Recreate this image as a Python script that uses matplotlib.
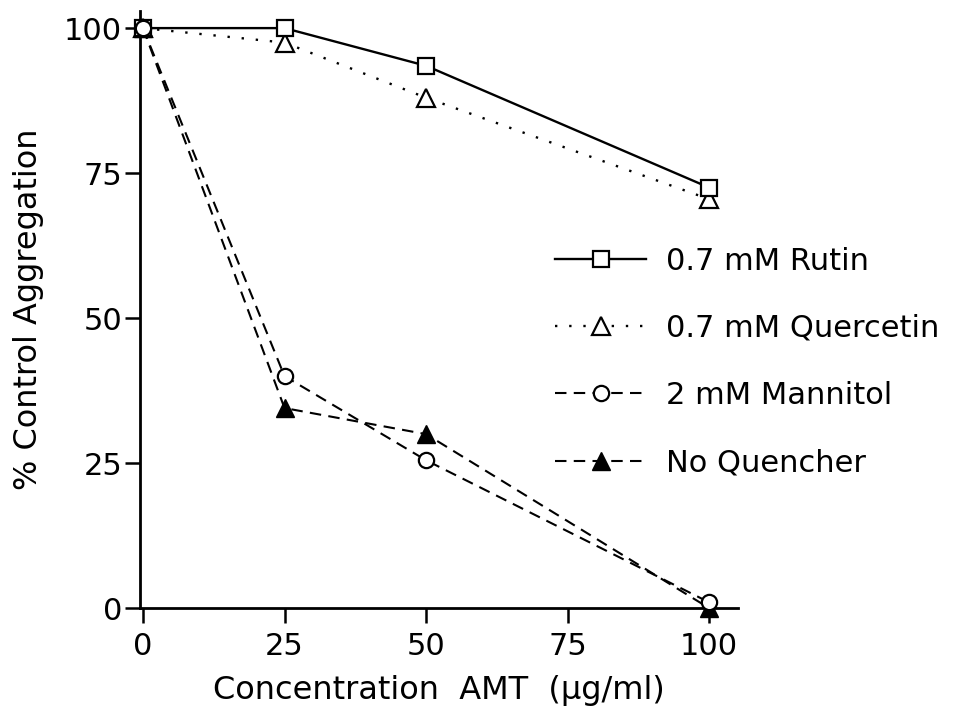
import matplotlib
matplotlib.use("Agg")
import matplotlib.pyplot as plt

# Data
conc = [0, 25, 50, 100]
rutin = [100, 100, 93.5, 72.5]
quercetin = [100, 97.5, 88, 70.5]
mannitol = [100, 40, 25.5, 1]
no_quencher = [100, 34.5, 30, 0]

labels = ["0.7 mM Rutin", "0.7 mM Quercetin", "2 mM Mannitol", "No Quencher"]
xticks = [0, 25, 50, 75, 100]
yticks = [0, 25, 50, 75, 100]

plt.rcParams["font.family"] = ["DejaVu Sans"]

fig = plt.figure(figsize=(9.73, 7.13), dpi=100)
ax = fig.add_axes([0.144, 0.147, 0.614, 0.838])

dash = (0, (5.5, 3.5))
ax.plot(conc, rutin, color="black", lw=1.7, ls="-", marker="s", ms=12,
        mfc="white", mec="black", mew=1.6, clip_on=False, label=labels[0], zorder=4)
ax.plot(conc, quercetin, color="black", lw=1.7, ls=(0, (1, 5)), marker="^", ms=13,
        mfc="white", mec="black", mew=1.6, clip_on=False, label=labels[1], zorder=3)
ax.plot(conc, mannitol, color="black", lw=1.5, ls=dash, marker="o", ms=11,
        mfc="white", mec="black", mew=1.6, clip_on=False, label=labels[2], zorder=4)
ax.plot(conc, no_quencher, color="black", lw=1.5, ls=dash, marker="^", ms=13,
        mfc="black", mec="black", mew=1.0, clip_on=False, label=labels[3], zorder=3)

ax.set_xlim(-0.5, 105)
ax.set_ylim(0, 103)
ax.set_xticks(xticks)
ax.set_yticks(yticks)
ax.spines["top"].set_visible(False)
ax.spines["right"].set_visible(False)
ax.spines["left"].set_linewidth(2)
ax.spines["bottom"].set_linewidth(2)
ax.tick_params(axis="both", labelsize=22, width=1.8, length=11, direction="out")
ax.tick_params(axis="x", pad=6)
ax.tick_params(axis="y", pad=2)

ax.set_xlabel("Concentration  AMT  (\u03bcg/ml)", fontsize=23, labelpad=10)
ax.set_ylabel("% Control Aggregation", fontsize=23, labelpad=14)

leg = ax.legend(loc="upper left", bbox_to_anchor=(0.694, 0.605), frameon=False,
                fontsize=22, handlelength=3.0, handletextpad=0.65,
                labelspacing=1.25, borderaxespad=0, borderpad=0)

fig.savefig("out.png", dpi=100)
